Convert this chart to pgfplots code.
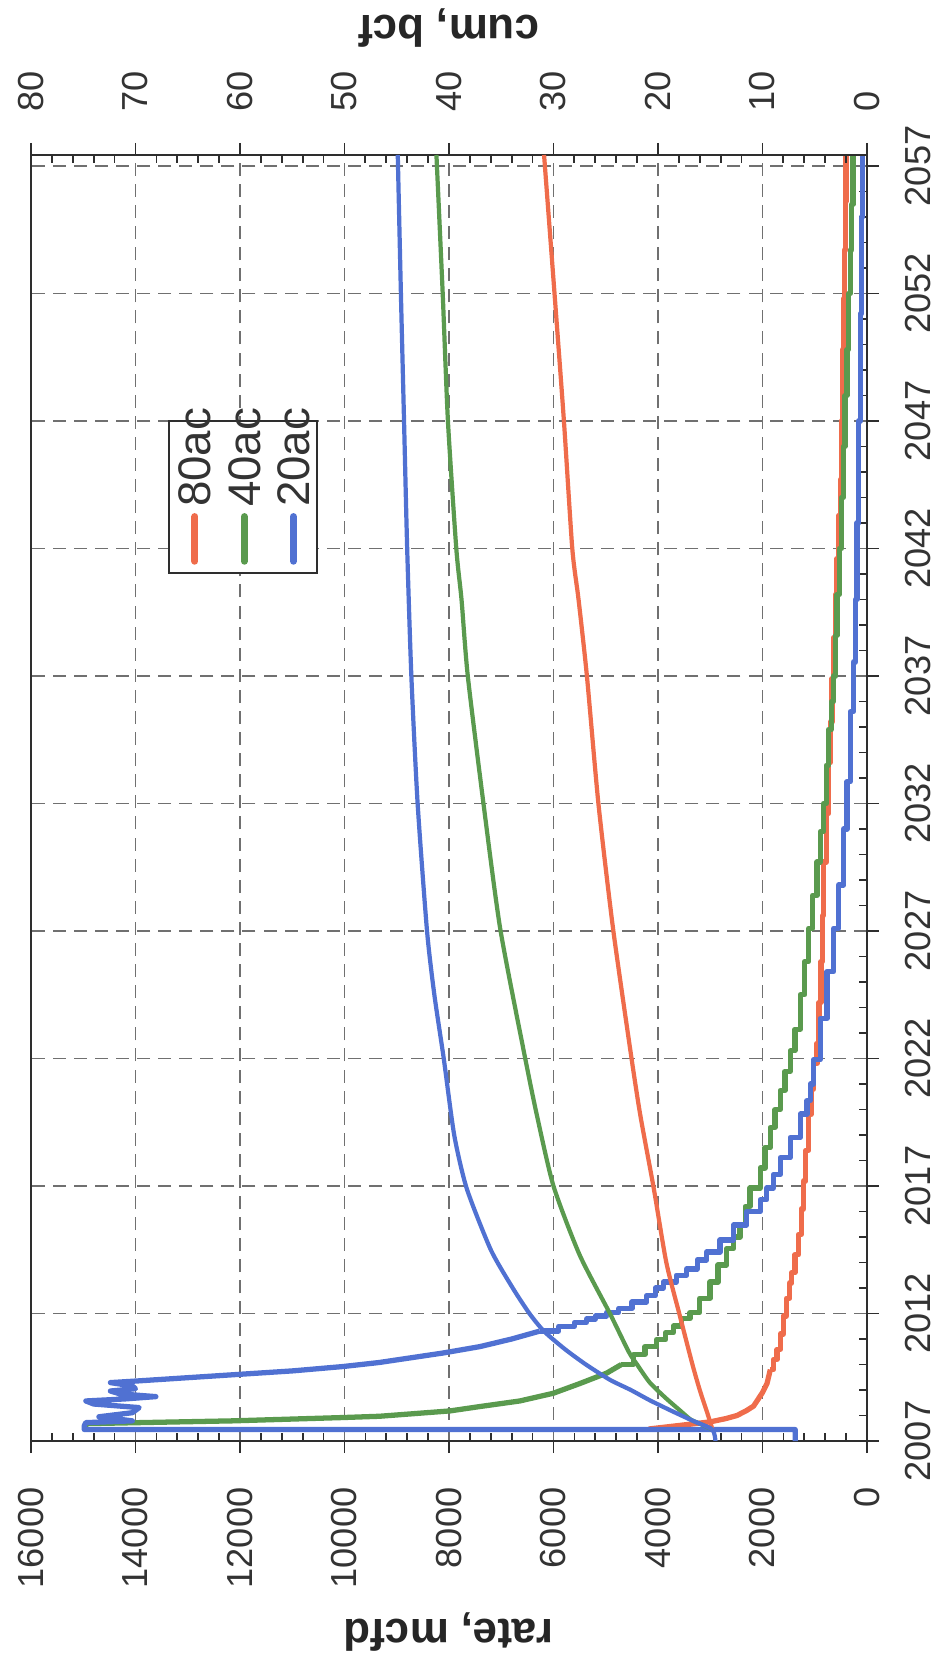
\documentclass[border=0pt]{standalone}
\usepackage{fontspec}
\setmainfont{Liberation Sans}
\usepackage{pgfplots}
\pgfplotsset{compat=1.18}

\definecolor{c80}{HTML}{EF6C4B}
\definecolor{c40}{HTML}{5A9A4E}
\definecolor{c20}{HTML}{5071D2}
\definecolor{gridc}{HTML}{707070}
\definecolor{axc}{HTML}{2E2E2E}

\pgfplotsset{
  base/.style={
    scale only axis, width=8.36cm, height=12.86cm,
    ymin=2007, ymax=2057.43,
    x dir=reverse,
    scaled x ticks=false, scaled y ticks=false,
    tick align=outside,
    major tick length=0.12cm,
    minor tick length=0.08cm,
    every tick/.style={axc, line width=0.5pt},
    axis line style={axc, line width=0.6pt},
    /pgf/number format/1000 sep={},
    /pgf/number format/assume math mode=true,
    tick label style={font=\fontsize{10.3}{12}\selectfont, inner sep=0pt, text=black!80},
    label style={font=\bfseries\fontsize{12.5}{14}\selectfont, text=black!85},
  },
  rate/.style={line width=1.5pt, line join=round},
  cum/.style={line width=1.2pt, line join=round, smooth, tension=0.4},
}
\tikzset{
  legtext/.style={rotate=90, anchor=west, inner sep=0pt,
    font=\fontsize{13}{14}\selectfont, text=black!80},
}

\begin{document}
\begin{tikzpicture}
% rate (bottom axis, reversed) against year (vertical)
\begin{axis}[base, name=main,
  xmin=0, xmax=16000, xtick={0,2000,...,16000}, minor x tick num=4,
  ytick={2007,2012,...,2057}, minor y tick num=4,
  xtick pos=bottom, ytick pos=right, yticklabel pos=right,
  grid=major,
  major grid style={gridc, line width=0.4pt, dash pattern=on 3.7pt off 2.3pt},
  xticklabel style={rotate=90, anchor=east},
  xticklabel shift=0.34cm,
  yticklabel style={rotate=90, anchor=north},
  yticklabel shift=0.26cm,
  minor x tick style={yshift=0.08cm},
  minor y tick style={xshift=-0.08cm},
  xlabel={rate, mcfd},
  xlabel style={at={(axis description cs:0.5,-0.1485)}, anchor=center, rotate=180},
]
% 80ac rate
\addplot[rate, c80] coordinates {
  (4180,2007.47) (3000,2007.75) (2700,2007.88) (2488,2008.0) (2300,2008.2)
  (2170,2008.37) (2000,2008.9) (1914,2009.25) (1850,2009.8)
};
\addplot[rate, c80, const plot] coordinates {
  (1850,2009.8) (1790,2010.2) (1720,2010.6) (1660,2011.2) (1600,2011.9)
  (1540,2012.6) (1480,2013.2) (1438,2013.6) (1380,2014.3) (1310,2015.1)
  (1260,2016.1) (1214,2017.2) (1170,2018.4) (1118,2019.8) (1070,2020.8)
  (1022,2021.8) (958,2022.6) (920,2024.2) (880,2025.8) (850,2027.6)
  (831,2029.7) (780,2031.6) (735,2033.6) (700,2035.2) (671,2036.9)
  (640,2038.5) (607,2040.2) (575,2041.6) (540,2043.3) (511,2044.7)
  (490,2047.0) (466,2049.8) (445,2051.8) (428,2053.7) (410,2055.6) (403,2057.43)
};
% 40ac rate
\addplot[rate, c40] coordinates {
  (14950,2007.5) (14950,2007.68) (12140,2007.79) (10030,2007.92) (9329,2007.97)
  (7980,2008.18) (7412,2008.35) (6645,2008.57) (6007,2008.87) (5500,2009.25)
  (4984,2009.66) (4700,2010.0)
};
\addplot[rate, c40, const plot] coordinates {
  (4700,2010.0) (4473,2010.39) (4250,2010.7) (4026,2010.98) (3850,2011.25)
  (3706,2011.51) (3550,2011.8) (3387,2012.04) (3200,2012.6) (3003,2013.23)
  (2850,2013.9) (2684,2014.55) (2550,2015.0) (2428,2015.47) (2330,2016.2)
  (2237,2016.92) (2045,2017.71) (1950,2018.5) (1853,2019.3) (1760,2020.0)
  (1661,2020.75) (1570,2021.5) (1470,2022.3) (1378,2023.15) (1278,2024.5)
  (1190,2025.8) (1118,2027.1) (1040,2028.4) (958,2029.7) (890,2030.9)
  (831,2032.0) (780,2033.5) (735,2034.9) (680,2036.0) (639,2037.0)
  (600,2038.6) (575,2040.2) (530,2042.0) (490,2044.0) (455,2046.0)
  (420,2048.0) (383,2049.8) (350,2052.0) (320,2053.7) (295,2055.5) (268,2057.43)
};
% 20ac rate
\addplot[rate, c20] coordinates {
  (1374,2007.0) (1374,2007.45) (14980,2007.45) (14980,2007.6) (14950,2007.72)
  (14060,2007.79) (14700,2007.95) (14060,2008.11) (13930,2008.31) (14800,2008.45)
  (14950,2008.57) (14200,2008.65) (13610,2008.74) (14300,2008.85) (14480,2008.96)
  (14000,2009.05) (14060,2009.16) (14480,2009.29) (14000,2009.35) (10990,2009.75)
  (10030,2009.92) (9330,2010.08) (8116,2010.45) (7412,2010.7) (6800,2011.0)
  (6262,2011.31)
};
\addplot[rate, c20, const plot] coordinates {
  (6262,2011.31) (5900,2011.5) (5600,2011.65) (5368,2011.78) (5200,2011.9)
  (4984,2012.04) (4750,2012.2) (4500,2012.45) (4217,2012.7) (4050,2013.0)
  (3898,2013.23) (3650,2013.5) (3451,2013.75) (3250,2014.1) (3067,2014.41)
  (2812,2014.88) (2556,2015.47) (2300,2016.0)
  (2045,2016.46) (1917,2016.92) (1789,2017.45) (1661,2018.11) (1470,2018.9)
  (1278,2019.82) (1150,2020.35) (1086,2021.0) (1022,2021.95) (895,2023.57)
  (767,2025.4) (639,2027.1) (543,2028.8) (447,2031.0) (383,2032.85)
  (320,2035.6) (256,2037.55) (224,2040.0) (190,2043.0) (160,2047.0)
  (128,2051.2) (100,2055.0) (90,2057.43)
};
% legend
\draw[axc, line width=0.5pt, fill=white]
  (axis cs:13359,2041.04) rectangle (axis cs:10523,2047.0);
\draw[c80, line width=2pt, line cap=round] (axis cs:12862,2041.5) -- (axis cs:12862,2043.25);
\draw[c40, line width=2pt, line cap=round] (axis cs:11917,2041.5) -- (axis cs:11917,2043.25);
\draw[c20, line width=2pt, line cap=round] (axis cs:10977,2041.5) -- (axis cs:10977,2043.25);
\node[legtext] at (axis cs:12862,2043.6) {80ac};
\node[legtext] at (axis cs:11917,2043.6) {40ac};
\node[legtext] at (axis cs:10977,2043.6) {20ac};
\end{axis}

% cumulative (top axis, reversed) against year
\begin{axis}[base,
  xmin=0, xmax=80, xtick={0,10,...,80}, minor x tick num=4,
  axis x line*=top, hide y axis,
  xticklabel style={rotate=90, anchor=west},
  xticklabel shift=0.31cm,
  minor x tick style={yshift=-0.08cm},
  xlabel={cum, bcf},
  xlabel style={at={(axis description cs:0.5,1.0988)}, anchor=center, rotate=180},
]
% 80ac cum
\addplot[cum, c80] coordinates {
  (14.8,2007.47) (15.2,2008.0) (16.0,2009.0) (16.7,2010.0) (17.9,2011.9)
  (19.2,2014.0) (20.4,2016.9) (21.7,2019.8) (22.6,2022.2) (24.3,2027.1)
  (25.7,2032.0) (26.8,2037.0) (27.6,2040.0) (28.2,2042.0) (29.0,2047.0)
  (29.9,2052.0) (30.9,2057.43)
};
% 40ac cum
\addplot[cum, c40] coordinates {
  (14.8,2007.45) (16.0,2007.68) (16.9,2007.85) (17.9,2008.2) (19.3,2008.7)
  (20.8,2009.3) (22.0,2010.0) (22.8,2010.5) (24.6,2012.0) (27.5,2014.3)
  (30.0,2017.0) (31.6,2019.8) (32.8,2022.2) (35.1,2027.1) (36.7,2032.0)
  (38.2,2037.0) (38.8,2040.0) (39.3,2042.0) (40.1,2047.0) (40.6,2052.0)
  (41.2,2057.43)
};
% 20ac cum
\addplot[cum, c20] coordinates {
  (14.5,2007.0) (14.8,2007.45) (16.7,2007.8) (18.8,2008.2) (20.8,2008.6)
  (22.6,2009.0) (24.6,2009.4) (26.9,2010.0) (28.9,2010.6) (30.9,2011.3)
  (32.3,2012.0) (33.9,2013.0) (36.0,2014.5) (38.3,2016.9) (39.5,2019.0)
  (40.5,2022.0) (41.4,2024.5) (42.1,2027.0) (43.0,2032.0) (43.6,2037.0)
  (44.0,2042.0) (44.3,2047.0) (44.6,2052.0) (44.9,2057.43)
};
\end{axis}
\pgfresetboundingbox
\path[use as bounding box] ([shift={(-0.31cm,-2.19cm)}]main.south west)
  rectangle ([shift={(0.78cm,1.55cm)}]main.north east);
\end{tikzpicture}
\end{document}
